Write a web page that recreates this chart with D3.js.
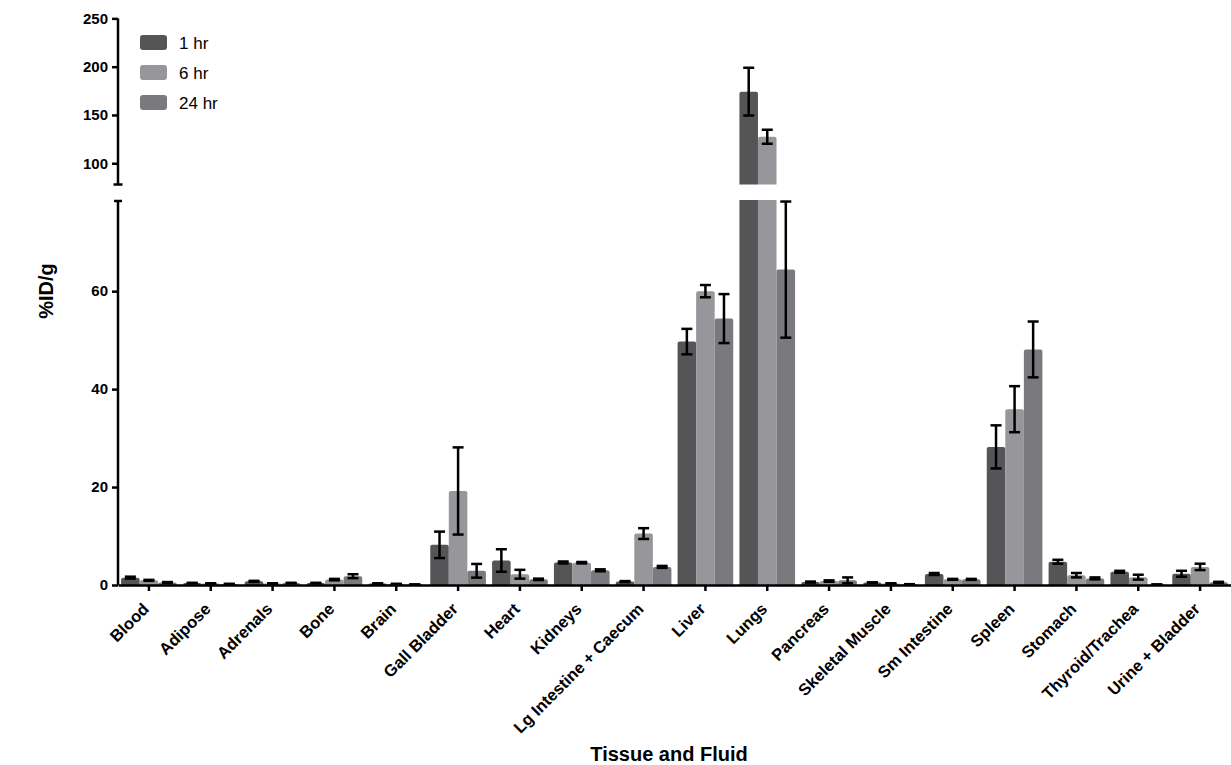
<!DOCTYPE html>
<html>
<head>
<meta charset="utf-8">
<script src="https://cdn.jsdelivr.net/npm/d3@7"></script>
<style>
  body { margin: 0; background: #fff; }
  svg { font-family: "Liberation Sans", Arial, sans-serif; }
  .axis path, .axis line { stroke: #000; stroke-width: 2.5; }
  .axis text { font-size: 15px; font-weight: bold; fill: #000; }
  .xaxis text { font-size: 16.5px; }
</style>
</head>
<body>
<svg id="chart" width="1231" height="765"></svg>
<script>
// tissues on the x axis
const tissues = ["Blood", "Adipose", "Adrenals", "Bone", "Brain", "Gall Bladder", "Heart",
  "Kidneys", "Lg Intestine + Caecum", "Liver", "Lungs", "Pancreas", "Skeletal Muscle",
  "Sm Intestine", "Spleen", "Stomach", "Thyroid/Trachea", "Urine + Bladder"];

const seriesNames = ["1 hr", "6 hr", "24 hr"];

// mean %ID/g per tissue
const mean1h  = [1.5, 0.4, 0.75, 0.4, 0.3, 8.2, 5.0, 4.6, 0.7, 49.7, 174.1, 0.6, 0.5, 2.25, 28.2, 4.75, 2.7, 2.3];
const mean6h  = [0.95, 0.3, 0.3, 1.1, 0.2, 19.2, 2.2, 4.55, 10.5, 60.0, 127.5, 0.8, 0.3, 1.15, 35.9, 2.0, 1.6, 3.7];
const mean24h = [0.5, 0.2, 0.4, 1.8, 0.1, 2.9, 1.15, 3.0, 3.7, 54.4, 64.4, 0.95, 0.15, 1.15, 48.1, 1.35, 0.1, 0.55];

// error (SD) per tissue
const err1h  = [0.2, 0.05, 0.1, 0.05, 0.05, 2.7, 2.3, 0.2, 0.1, 2.6, 24.7, 0.1, 0.05, 0.2, 4.4, 0.4, 0.2, 0.6];
const err6h  = [0.1, 0.05, 0.05, 0.15, 0.05, 8.9, 0.9, 0.15, 1.1, 1.25, 7.2, 0.15, 0.05, 0.1, 4.7, 0.45, 0.5, 0.65];
const err24h = [0.1, 0.05, 0.05, 0.4, 0.02, 1.4, 0.15, 0.2, 0.2, 5.0, 13.9, 0.6, 0.02, 0.1, 5.7, 0.2, 0.02, 0.1];

const lowTicks = [0, 20, 40, 60];
const highTicks = [100, 150, 200, 250];
const breakAt = 78;

const colors = ["#555558", "#97979b", "#7a7a7e"];

const means = [mean1h, mean6h, mean24h];
const errs = [err1h, err6h, err24h];

const rows = tissues.map((t, i) => ({
  tissue: t,
  vals: seriesNames.map((s, k) => ({ series: s, k: k, v: means[k][i], e: errs[k][i] }))
}));

const svg = d3.select("#chart");

const left = 118, right = 1231, base = 585;

const x0 = d3.scaleBand().domain(tissues).range([left, right])
  .paddingInner(0.1).paddingOuter(0.05);
const x1 = d3.scaleBand().domain(seriesNames).range([0, x0.bandwidth()]);

// broken y axis: two linear segments
const yLow = d3.scaleLinear().domain([0, breakAt]).range([base, 203]);
const yHigh = d3.scaleLinear().domain([breakAt, 250]).range([184.5, 18.4]);

const defs = svg.append("defs");
defs.append("clipPath").attr("id", "clipLow").append("rect")
  .attr("x", left).attr("y", 200).attr("width", right - left).attr("height", base - 200);
defs.append("clipPath").attr("id", "clipHigh").append("rect")
  .attr("x", left).attr("y", 10).attr("width", right - left).attr("height", 184.5 - 10);

const segments = [
  { y: yLow, clip: "url(#clipLow)", floor: 0 },
  { y: yHigh, clip: "url(#clipHigh)", floor: breakAt }
];

segments.forEach(seg => {
  let g = svg.append("g").attr("clip-path", seg.clip);
  let grp = g.selectAll("g.grp")
    .data(rows)
    .enter()
    .append("g")
    .attr("class", "grp")
    .attr("transform", d => `translate(${x0(d.tissue)},0)`);

  let bars = grp.selectAll("g.bar")
    .data(d => d.vals.filter(v => v.v > seg.floor))
    .enter()
    .append("g")
    .attr("class", "bar");

  bars.append("rect")
    .attr("x", d => x1(d.series))
    .attr("y", d => seg.y(d.v))
    .attr("width", x1.bandwidth())
    .attr("height", d => seg.y(seg.floor) - seg.y(d.v) + 3)
    .attr("rx", 2)
    .attr("fill", d => colors[d.k]);

  // error bars
  let eb = bars.append("g")
    .attr("stroke", "#000")
    .attr("stroke-width", 2.5);
  let cx = d => x1(d.series) + x1.bandwidth() / 2;
  eb.append("line")
    .attr("x1", cx).attr("x2", cx)
    .attr("y1", d => seg.y(d.v + d.e))
    .attr("y2", d => seg.y(d.v - d.e));
  eb.append("line")
    .attr("x1", d => cx(d) - 5.5).attr("x2", d => cx(d) + 5.5)
    .attr("y1", d => seg.y(d.v + d.e)).attr("y2", d => seg.y(d.v + d.e));
  eb.append("line")
    .attr("x1", d => cx(d) - 5.5).attr("x2", d => cx(d) + 5.5)
    .attr("y1", d => seg.y(d.v - d.e)).attr("y2", d => seg.y(d.v - d.e));
});

// y axes
let axLow = svg.append("g")
  .attr("class", "axis")
  .attr("transform", `translate(${left},0)`)
  .call(d3.axisLeft(yLow).tickValues(lowTicks).tickSize(6).tickSizeOuter(0).tickPadding(4));
axLow.select(".domain").attr("d", `M0,${base}V201`);

let axHigh = svg.append("g")
  .attr("class", "axis")
  .attr("transform", `translate(${left},0)`)
  .call(d3.axisLeft(yHigh).tickValues(highTicks).tickSize(6).tickSizeOuter(0).tickPadding(4));
axHigh.select(".domain").attr("d", `M0,184.5V18.4`);

// break caps
svg.append("line").attr("x1", left - 4.5).attr("x2", left + 4.5)
  .attr("y1", 184.5).attr("y2", 184.5).attr("stroke", "#000").attr("stroke-width", 2.5);
svg.append("line").attr("x1", left - 4).attr("x2", left + 4)
  .attr("y1", 201).attr("y2", 201).attr("stroke", "#000").attr("stroke-width", 2.5);

// x axis
let axX = svg.append("g")
  .attr("class", "axis xaxis")
  .attr("transform", `translate(0,${base})`)
  .call(d3.axisBottom(x0).tickSize(6).tickSizeOuter(0));

axX.selectAll("text")
  .attr("text-anchor", "end")
  .attr("transform", "translate(1,25) rotate(-45)")
  .attr("dy", 0)
  .attr("y", 0)
  .attr("x", 0);

// axis titles
svg.append("text")
  .attr("x", 669).attr("y", 761)
  .attr("text-anchor", "middle")
  .attr("font-size", 20).attr("font-weight", "bold")
  .text("Tissue and Fluid");

svg.append("text")
  .attr("transform", "translate(53,291) rotate(-90)")
  .attr("text-anchor", "middle")
  .attr("font-size", 20).attr("font-weight", "bold")
  .text("%ID/g");

// legend
let legend = svg.append("g").attr("transform", "translate(140,35)");
let li = legend.selectAll("g")
  .data(seriesNames)
  .enter()
  .append("g")
  .attr("transform", (d, i) => `translate(0,${i * 30})`);
li.append("rect")
  .attr("width", 27).attr("height", 15).attr("rx", 3)
  .attr("fill", (d, i) => colors[i]);
li.append("text")
  .attr("x", 39).attr("y", 13.5)
  .attr("font-size", 17)
  .text(d => d);
</script>
</body>
</html>
